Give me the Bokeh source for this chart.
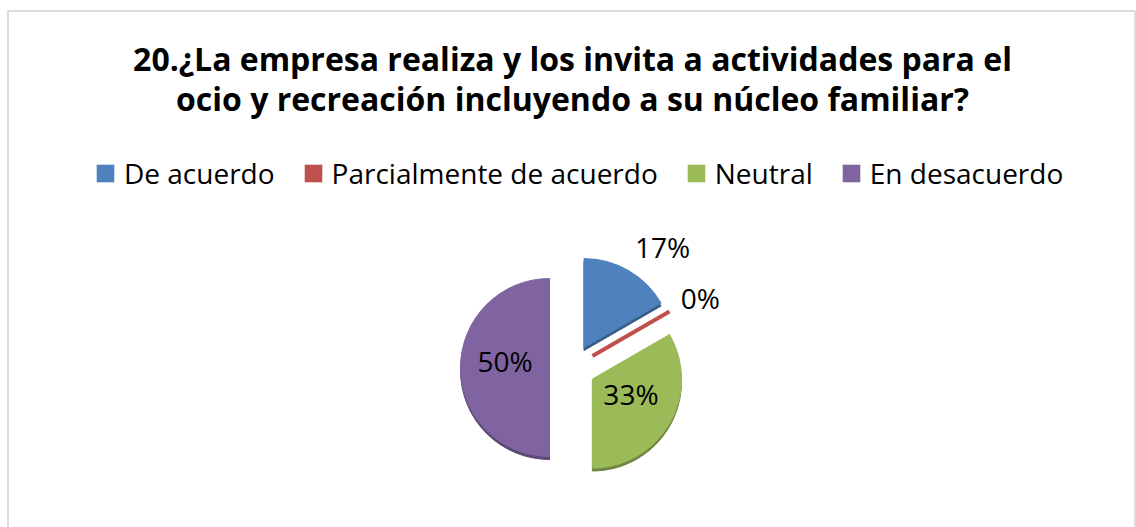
import numpy as np
from bokeh.plotting import figure
from bokeh.models import Range1d, ColumnDataSource, Legend, LegendItem, BoxAnnotation
from bokeh.core.properties import value
from bokeh.embed import file_html
from bokeh.resources import INLINE

# ---------------- data ----------------
title_lines = [
    "20.¿La empresa realiza y los invita a actividades para el",
    "ocio y recreación incluyendo a su núcleo familiar?",
]
categories = ["De acuerdo", "Parcialmente de acuerdo", "Neutral", "En desacuerdo"]
counts = [1, 0, 2, 3]
pct_labels = ["17%", "0%", "33%", "50%"]
colors = ["#4F81BD", "#C0504D", "#9BBB59", "#8064A2"]

# ---------------- layout ----------------
W, H = 1136, 527
FONT = "Open Sans"


def Y(y_top):
    return H - y_top


def darker(hex_color, f=0.72):
    r, g, b = (int(hex_color[i:i + 2], 16) for i in (1, 3, 5))
    return "#%02x%02x%02x" % (int(r * f), int(g * f), int(b * f))


p = figure(width=W, height=H, x_range=Range1d(0, W), y_range=Range1d(0, H),
           output_backend="svg", toolbar_location=None, min_border=0)
p.axis.visible = False
p.grid.visible = False
p.outline_line_color = None
p.background_fill_color = "white"
p.border_fill_color = "white"

# chart border
p.add_layout(BoxAnnotation(left=7.5, right=1134.5, top=Y(10.5), bottom=-30,
                           fill_alpha=0, line_color="#8c8c8c", line_width=2))

# title
p.text(x=[572, 572], y=[Y(58), Y(98)], text=title_lines,
       text_font=value(FONT), text_font_style="bold", text_font_size="32px",
       text_color="#000000", text_align="center", text_baseline="middle")

# pie geometry
cx, cy = 572, Y(367)
R = 89
explode = 23
rim = 3

frac = np.array(counts, dtype=float) / sum(counts)
cum = np.concatenate([[0.0], np.cumsum(frac)])
start = np.pi / 2 - 2 * np.pi * cum[:-1]
end = np.pi / 2 - 2 * np.pi * cum[1:]
mid = (start + end) / 2
ox = cx + explode * np.cos(mid)
oy = cy + explode * np.sin(mid)

nz = frac > 0
zero = ~nz
wsrc = ColumnDataSource(dict(x=ox[nz], y=oy[nz], y_rim=oy[nz] - rim,
                             start=start[nz], end=end[nz],
                             color=[c for c, k in zip(colors, nz) if k],
                             dark=[darker(c) for c, k in zip(colors, nz) if k]))
# 3-D rim (slightly darker copy just below each slice)
p.wedge(x="x", y="y_rim", radius=R, start_angle="start", end_angle="end",
        direction="clock", fill_color="dark", line_color="dark", line_width=1,
        source=wsrc)
p.wedge(x="x", y="y", radius=R, start_angle="start", end_angle="end",
        direction="clock", fill_color="color", line_color="color",
        line_width=1, source=wsrc)

# zero-valued slices drawn as a thin line (as Excel does)
if zero.any():
    p.segment(x0=ox[zero], y0=oy[zero],
              x1=ox[zero] + R * np.cos(mid[zero]), y1=oy[zero] + R * np.sin(mid[zero]),
              line_color=[c for c, z in zip(colors, zero) if z], line_width=4)

# data labels: small slices outside end, others inside
outside = frac < 0.25
lx_out = ox + (R + 13) * np.cos(mid)
ly_out = oy + (R + 13) * np.sin(mid) + 14 * np.sin(mid)
lx_in = ox + 0.50 * R * np.cos(mid)
ly_in = oy + 0.50 * R * np.sin(mid) + 7
p.text(x=lx_out[outside], y=ly_out[outside],
       text=[t for t, o in zip(pct_labels, outside) if o],
       text_font=value(FONT), text_font_size="28px", text_color="#000000",
       text_align="left", text_baseline="middle")
p.text(x=lx_in[~outside], y=ly_in[~outside],
       text=[t for t, o in zip(pct_labels, outside) if not o],
       text_font=value(FONT), text_font_size="28px", text_color="#000000",
       text_align="center", text_baseline="middle")

# legend (square swatches); each swatch renderer holds one zero-area box
items = []
for c, col in zip(categories, colors):
    r = p.quad(left=[cx], right=[cx], top=[cy], bottom=[cy],
               fill_color=col, line_color=col, line_alpha=0)
    items.append(LegendItem(label=c, renderers=[r]))
legend = Legend(items=items, orientation="horizontal", location=(94, 335),
                glyph_width=22, glyph_height=22, label_standoff=8, spacing=27,
                padding=0, margin=0, border_line_color=None, background_fill_alpha=0,
                label_text_font=FONT, label_text_font_size="28px",
                label_text_color="#000000")
p.add_layout(legend)

open("out.html", "w").write(file_html(p, INLINE))
